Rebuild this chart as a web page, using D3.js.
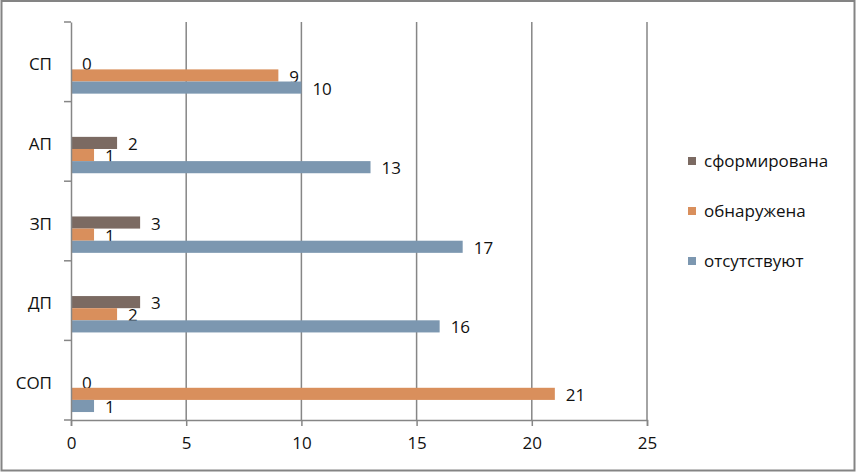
<!DOCTYPE html>
<html>
<head>
<meta charset="utf-8">
<script src="https://cdn.jsdelivr.net/npm/d3@7"></script>
<style>
  body { margin: 0; background: #fff; }
  text { font-family: "Open Sans", Lato, sans-serif; fill: #111; }
</style>
</head>
<body>
<div id="chart"></div>
<script>
// categories, bottom to top as in the picture
var categories = ["СОП", "ДП", "ЗП", "АП", "СП"];
var seriesNames = ["сформирована", "обнаружена", "отсутствуют"];
var sformirovana = [0, 3, 3, 2, 0];
var obnaruzhena = [21, 2, 1, 1, 9];
var otsutstvuyut = [1, 16, 17, 13, 10];
var xTicks = [0, 5, 10, 15, 20, 25];
var colors = ["#7b6a62", "#d98f5c", "#7c97b0"];

var seriesValues = [sformirovana, obnaruzhena, otsutstvuyut];
var fs = "17px";

var svg = d3.select("#chart")
            .append("svg")
            .attr("width", 857)
            .attr("height", 473);

// outer border of the chart
svg.append("rect")
   .attr("x", 1.5).attr("y", 1)
   .attr("width", 853).attr("height", 469.5)
   .attr("fill", "none")
   .attr("stroke", "#848484")
   .attr("stroke-width", 2);

var margin = {top: 22, left: 71},
    width = 576,
    height = 398,
    g = svg.append("g").attr("transform", "translate(" + margin.left + "," + margin.top + ")");

var x = d3.scaleLinear().domain([0, 25]).range([0, width]);

// reversed so first category sits at the bottom
var y = d3.scaleBand().domain(categories.slice().reverse()).range([0, height]);

// bars sit in the lower part of each band
var inner = d3.scaleBand().domain(seriesNames)
              .range([y.bandwidth() * 0.443, y.bandwidth() * 0.9]);

// gridlines
g.selectAll(".grid")
  .data(xTicks.slice(1))
  .enter().append("line")
  .attr("class", "grid")
  .attr("x1", function(d) { return x(d); })
  .attr("x2", function(d) { return x(d); })
  .attr("y1", 0).attr("y2", height)
  .attr("stroke", "#868686")
  .attr("stroke-width", 1.5);

// bars
var catG = g.selectAll(".cat")
  .data(categories)
  .enter().append("g")
  .attr("class", "cat")
  .attr("transform", function(d) { return "translate(0," + y(d) + ")"; });

seriesNames.forEach(function(s, si) {
  catG.append("rect")
    .attr("x", 0)
    .attr("y", inner(s))
    .attr("height", inner.bandwidth())
    .attr("width", function(d, i) { return x(seriesValues[si][i]); })
    .attr("fill", colors[si]);

  catG.append("text")
    .attr("x", function(d, i) { return x(seriesValues[si][i]) + 11; })
    .attr("y", inner(s) + inner.bandwidth() / 2 + 1)
    .attr("dy", "0.36em")
    .style("font-size", fs)
    .text(function(d, i) { return seriesValues[si][i]; });
});

// x axis
var xAxis = g.append("g")
  .attr("transform", "translate(0," + height + ")")
  .call(d3.axisBottom(x).tickValues(xTicks).tickSize(6).tickPadding(11).tickFormat(d3.format("d")));
xAxis.select(".domain").attr("stroke", "#868686").attr("stroke-width", 1.5);
xAxis.selectAll("line").attr("stroke", "#868686").attr("stroke-width", 1.5);
xAxis.selectAll("text").style("font-size", fs).attr("fill", "#111");

// y axis
var yAxis = g.append("g")
  .call(d3.axisLeft(y).tickSize(0).tickPadding(19));
yAxis.select(".domain").attr("stroke", "#868686").attr("stroke-width", 1.5);
yAxis.selectAll("text").style("font-size", fs).attr("fill", "#111").attr("dy", "0.5em");

// category boundary ticks
g.selectAll(".ytick")
  .data(d3.range(categories.length + 1))
  .enter().append("line")
  .attr("x1", -7).attr("x2", 0)
  .attr("y1", function(i) { return i * y.step(); })
  .attr("y2", function(i) { return i * y.step(); })
  .attr("stroke", "#868686")
  .attr("stroke-width", 1.5);

// legend
var legend = svg.selectAll(".legend")
  .data(seriesNames)
  .enter().append("g")
  .attr("class", "legend")
  .attr("transform", function(d, i) { return "translate(688," + (161 + i * 50) + ")"; });

legend.append("rect")
  .attr("x", 0).attr("y", -4)
  .attr("width", 8).attr("height", 8)
  .attr("fill", function(d, i) { return colors[i]; });

legend.append("text")
  .attr("x", 16)
  .attr("dy", "0.35em")
  .style("font-size", fs)
  .text(function(d) { return d; });
</script>
</body>
</html>
